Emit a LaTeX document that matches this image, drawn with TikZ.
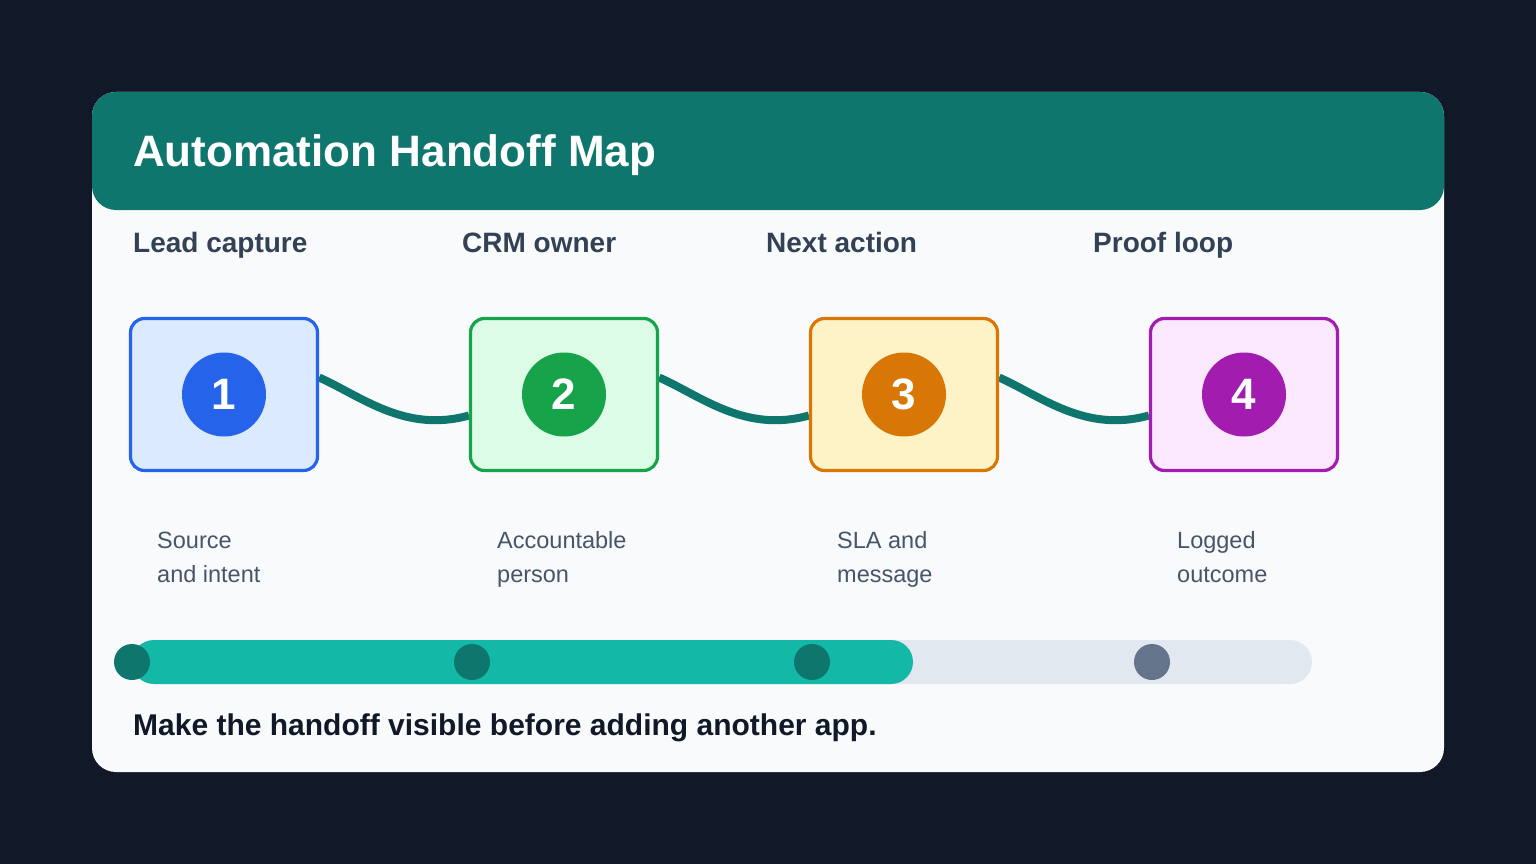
\documentclass[tikz,border=0pt]{standalone}
\usepackage{fontspec}
\setmainfont{Liberation Sans}
\usetikzlibrary{calc}
\pgfdeclarelayer{back}
\pgfdeclarelayer{mid}
\pgfsetlayers{back,mid,main}
\definecolor{bgc}{HTML}{111827}
\definecolor{cardc}{HTML}{F8FAFC}
\definecolor{headc}{HTML}{0F766E}
\definecolor{labc}{HTML}{334155}
\definecolor{descc}{HTML}{475569}
\definecolor{footc}{HTML}{111827}
\definecolor{blueS}{HTML}{2563EB}
\definecolor{blueF}{HTML}{DBEAFE}
\definecolor{greenS}{HTML}{16A34A}
\definecolor{greenF}{HTML}{DCFCE7}
\definecolor{amberS}{HTML}{D97706}
\definecolor{amberF}{HTML}{FEF3C7}
\definecolor{purpS}{HTML}{A21CAF}
\definecolor{purpF}{HTML}{FAE8FF}
\definecolor{barc}{HTML}{14B8A6}
\definecolor{trackc}{HTML}{E2E8F0}
\definecolor{dotoff}{HTML}{64748B}
\begin{document}
\begin{tikzpicture}[x=1pt,y=-1pt,
  stepbox/.style={draw, line width=3.2pt, rounded corners=14pt, minimum width=187pt, minimum height=152pt, inner sep=0pt},
  numdot/.style={circle, minimum size=84pt, inner sep=0pt, text=white, font=\fontsize{44}{50}\selectfont\bfseries},
  txt/.style={inner sep=0pt, anchor=base west},
  steplabel/.style={txt, text=labc, font=\fontsize{28}{32}\selectfont\bfseries},
  desc/.style={txt, text=descc, font=\fontsize{23.5}{28}\selectfont},
  link/.style={draw=headc, line width=8pt},
  progdot/.style={circle, minimum size=36pt, inner sep=0pt}]
\useasboundingbox (0,0) rectangle (1536,864);
\begin{pgfonlayer}{back}
\fill[bgc] (0,0) rectangle (1536,864);
\fill[cardc, rounded corners=24pt] (92,92) rectangle (1444,772);
\fill[headc, rounded corners=24pt] (92,92) rectangle (1444,210);
\end{pgfonlayer}
\node[txt, text=white, font=\fontsize{44}{52}\selectfont\bfseries] (title) at (133,166) {Automation Handoff Map};
% step labels
\node[steplabel] (l1) at (133,252) {Lead capture};
\node[steplabel] (l2) at (462,252) {CRM owner};
\node[steplabel] (l3) at (766,252) {Next action};
\node[steplabel] (l4) at (1093,252) {Proof loop};
% boxes
\node[stepbox, draw=blueS, fill=blueF] (b1) at (224,394.5) {};
\node[stepbox, draw=greenS, fill=greenF] (b2) at (564,394.5) {};
\node[stepbox, draw=amberS, fill=amberF] (b3) at (904,394.5) {};
\node[stepbox, draw=purpS, fill=purpF] (b4) at (1244,394.5) {};
\node[numdot, fill=blueS] (c1) at (b1.center) {1};
\node[numdot, fill=greenS] (c2) at (b2.center) {2};
\node[numdot, fill=amberS] (c3) at (b3.center) {3};
\node[numdot, fill=purpS] (c4) at (b4.center) {4};
% connectors behind boxes
\begin{pgfonlayer}{mid}
\path[link] ($(b1.east)+(0,-17)$) .. controls +(41,18) and +(-64,18) .. ($(b2.west)+(0,21)$);
\path[link] ($(b2.east)+(0,-17)$) .. controls +(41,18) and +(-64,18) .. ($(b3.west)+(0,21)$);
\path[link] ($(b3.east)+(0,-17)$) .. controls +(41,18) and +(-64,18) .. ($(b4.west)+(0,21)$);
\end{pgfonlayer}
% descriptions
\node[desc] (s1a) at (157,548) {Source};
\node[desc] (s1b) at (157,582) {and intent};
\node[desc] (s2a) at (497,548) {Accountable};
\node[desc] (s2b) at (497,582) {person};
\node[desc] (s3a) at (837,548) {SLA and};
\node[desc] (s3b) at (837,582) {message};
\node[desc] (s4a) at (1177,548) {Logged};
\node[desc] (s4b) at (1177,582) {outcome};
% progress bar
\fill[trackc, rounded corners=22pt] (132,640) rectangle (1312,684);
\fill[barc, rounded corners=22pt] (132,640) rectangle (913,684);
\node[progdot, fill=headc] (d1) at (132,662) {};
\node[progdot, fill=headc] (d2) at (472,662) {};
\node[progdot, fill=headc] (d3) at (812,662) {};
\node[progdot, fill=dotoff] (d4) at (1152,662) {};
% footer
\node[txt, text=footc, font=\fontsize{30}{34}\selectfont\bfseries] (foot) at (133,735) {Make the handoff visible before adding another app.};
\end{tikzpicture}
\end{document}
